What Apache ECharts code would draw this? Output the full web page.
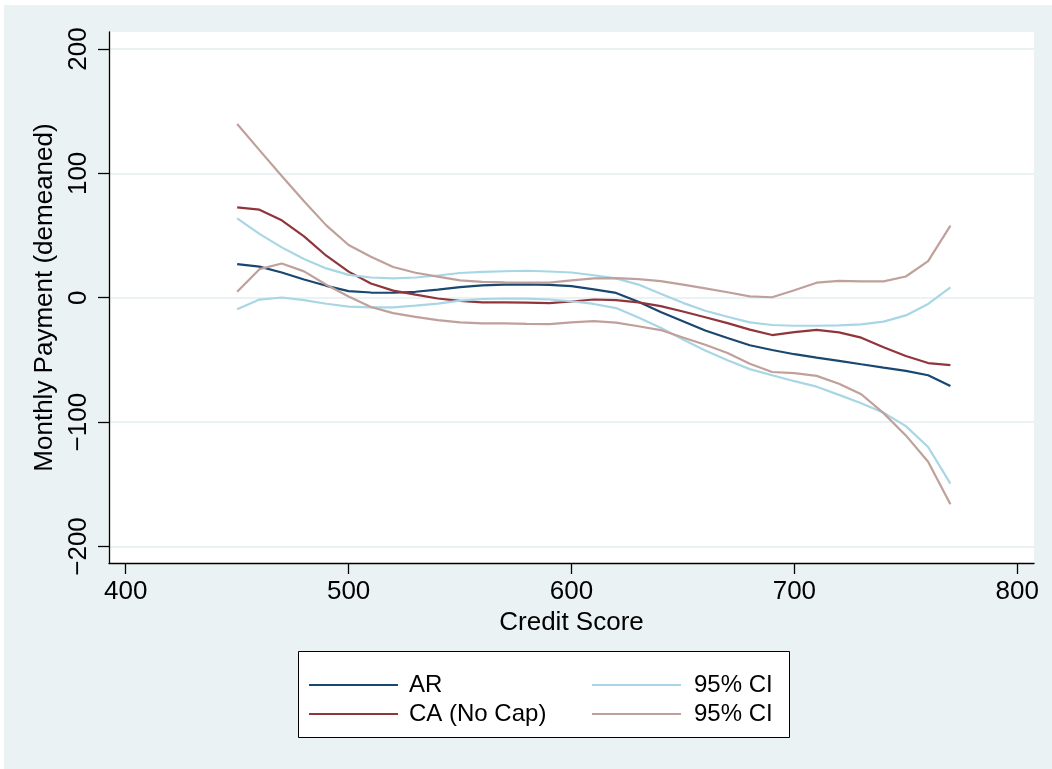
<!DOCTYPE html>
<html>
<head>
<meta charset="utf-8">
<title>Monthly Payment by Credit Score</title>
<script src="https://cdn.jsdelivr.net/npm/echarts@6/dist/echarts.min.js"></script>
<style>
  html, body { margin: 0; padding: 0; background: #ffffff; }
  #chart { position: absolute; left: 4px; top: 5px; width: 1048px; height: 764px; }
</style>
</head>
<body>
<div id="chart"></div>
<script>
// Evaluation grid of credit scores
const creditScore = [450, 460, 470, 480, 490, 500, 510, 520, 530, 540, 550, 560, 570, 580, 590, 600,
  610, 620, 630, 640, 650, 660, 670, 680, 690, 700, 710, 720, 730, 740, 750, 760, 770];

// Fitted monthly payment (demeaned), Arkansas
const arFit = [27.1, 25.0, 20.3, 14.7, 9.6, 5.3, 4.2, 4.0, 4.8, 6.6, 8.6, 9.9, 10.6, 10.7, 10.4, 9.3,
  6.7, 3.9, -3.2, -11.4, -18.9, -26.4, -32.4, -38.2, -42.0, -45.4, -48.1, -50.7, -53.5, -56.2, -58.8, -62.3, -71.0];
const arUpper = [63.9, 51.4, 40.5, 31.1, 23.6, 18.4, 16.3, 15.6, 16.3, 17.9, 19.9, 20.8, 21.3, 21.7, 21.1, 20.3,
  18.1, 15.6, 10.6, 3.2, -4.1, -10.5, -15.3, -19.8, -21.9, -22.5, -22.5, -22.2, -21.4, -19.2, -14.2, -5.0, 8.3];
const arLower = [-9.3, -1.5, 0.2, -1.9, -4.8, -7.1, -7.7, -7.7, -6.4, -4.7, -2.3, -1.0, -0.6, -0.7, -1.4, -2.8,
  -5.0, -8.3, -15.8, -24.1, -33.5, -42.5, -50.2, -57.4, -62.3, -67.1, -71.5, -78.1, -84.9, -92.4, -103.2, -120.0, -149.5];

// Fitted monthly payment (demeaned), California without cap
const caFit = [72.7, 70.8, 62.3, 49.4, 33.8, 21.0, 11.4, 5.7, 2.5, -0.6, -2.5, -3.7, -3.7, -3.9, -4.3, -3.0,
  -1.4, -1.9, -3.7, -6.7, -11.1, -15.7, -20.4, -25.6, -30.0, -27.6, -25.8, -27.9, -32.1, -39.8, -46.9, -52.5, -54.2];
const caUpper = [139.7, 118.7, 97.9, 77.6, 58.2, 42.4, 33.0, 24.7, 20.1, 17.0, 14.0, 12.7, 12.4, 12.2, 12.1, 13.9,
  15.6, 15.8, 15.0, 13.4, 10.5, 7.6, 4.4, 1.1, 0.4, 6.0, 12.1, 13.6, 13.2, 13.2, 17.1, 29.4, 58.0];
const caLower = [4.8, 23.0, 27.5, 21.2, 10.5, 1.0, -7.4, -12.4, -15.4, -18.0, -19.8, -20.6, -20.6, -21.0, -21.2, -19.8,
  -18.8, -20.0, -22.9, -26.0, -32.0, -37.8, -44.5, -53.0, -59.7, -60.6, -62.8, -69.1, -77.6, -92.8, -110.7, -131.9, -166.0];

// Tick labels
const xTicks = [400, 500, 600, 700, 800];
const yTicks = [-200, -100, 0, 100, 200];

const FONT = '"Liberation Sans", Arial, Helvetica, sans-serif';
const NAVY = '#1a476f';
const MAROON = '#90353b';
const LTBLUE = '#a8d6e5';
const ROSE = '#c0a09b';

function pairs(ys) {
  return creditScore.map((x, i) => [x, ys[i]]);
}

function lineSeries(name, ys, color) {
  return {
    name: name,
    type: 'line',
    data: pairs(ys),
    symbol: 'none',
    showSymbol: false,
    smooth: false,
    lineStyle: { color: color, width: 2.2 },
    itemStyle: { color: color },
    emphasis: { disabled: true },
    z: 3
  };
}

const legendText = name => (name.endsWith('95% CI') ? '95% CI' : name);

// Legend keys are plain line segments
function legendBlock(names, left, textGap) {
  return {
    data: names,
    orient: 'vertical',
    left: left, top: 667,
    padding: 0,
    icon: 'rect',
    itemWidth: 89, itemHeight: 2.2, itemGap: 3,
    formatter: legendText,
    selectedMode: false,
    textStyle: { fontSize: 24, color: '#000', fontFamily: FONT, lineHeight: 26, padding: [0, 0, 0, textGap] }
  };
}

const chart = echarts.init(document.getElementById('chart'), null, { renderer: 'canvas' });

chart.setOption({
  animation: false,
  backgroundColor: '#eaf2f3',
  textStyle: { fontFamily: FONT },
  grid: {
    left: 105, right: 18, top: 27, bottom: 206,
    show: true, backgroundColor: '#ffffff', borderWidth: 0
  },
  graphic: [{
    type: 'rect',
    left: 294, top: 646,
    shape: { width: 491, height: 86 },
    style: { fill: '#ffffff', stroke: '#000000', lineWidth: 1 },
    z: 0
  }],
  legend: [
    legendBlock(['AR', 'CA (No Cap)'], 305, 6),
    legendBlock(['AR 95% CI', 'CA 95% CI'], 588, 8)
  ],
  xAxis: {
    type: 'value',
    min: 392.5, max: 807.5,
    name: 'Credit Score',
    nameLocation: 'middle',
    nameGap: 44,
    nameTextStyle: { fontSize: 26, color: '#000', fontFamily: FONT },
    axisLine: { show: true, onZero: false, lineStyle: { color: '#000', width: 1.3 } },
    axisTick: { show: true, length: 11, customValues: xTicks, lineStyle: { color: '#000', width: 1.3 } },
    axisLabel: { customValues: xTicks, fontSize: 26, color: '#000', margin: 16, fontFamily: FONT },
    splitLine: { show: false }
  },
  yAxis: {
    type: 'value',
    min: -213.3, max: 213.7,
    name: 'Monthly Payment (demeaned)',
    nameLocation: 'middle',
    nameGap: 44,
    nameTextStyle: { fontSize: 26, color: '#000', fontFamily: FONT },
    axisLine: { show: true, onZero: false, lineStyle: { color: '#000', width: 1.3 } },
    axisTick: { show: true, length: 11, customValues: yTicks, lineStyle: { color: '#000', width: 1.3 } },
    axisLabel: {
      customValues: yTicks, fontSize: 26, color: '#000', margin: 17, rotate: 90, fontFamily: FONT,
      formatter: v => String(v).replace('-', '\u2212')
    },
    splitLine: { show: true, lineStyle: { color: '#eaf2f3', width: 2 } }
  },
  series: [
    lineSeries('AR', arFit, NAVY),
    lineSeries('CA (No Cap)', caFit, MAROON),
    lineSeries('AR 95% CI', arUpper, LTBLUE),
    lineSeries('AR 95% CI', arLower, LTBLUE),
    lineSeries('CA 95% CI', caUpper, ROSE),
    lineSeries('CA 95% CI', caLower, ROSE)
  ]
});
</script>
</body>
</html>
